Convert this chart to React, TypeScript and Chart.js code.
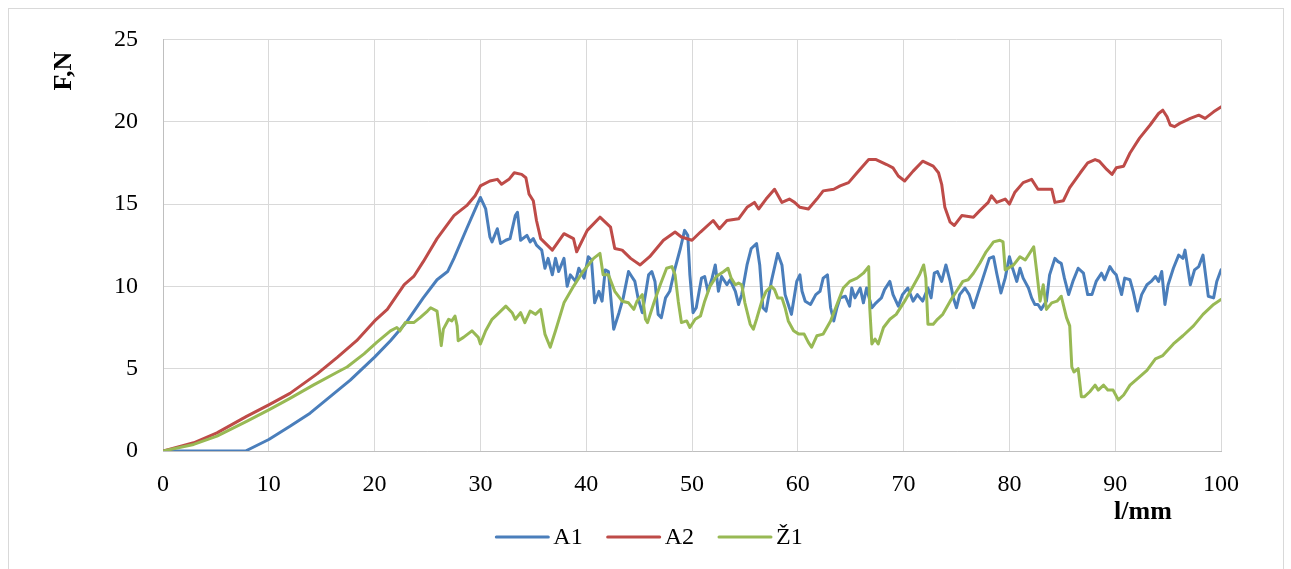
import React, { useEffect, useRef } from "react";
import { Chart, registerables } from "chart.js";

Chart.register(...registerables);

const xTicks = [0, 10, 20, 30, 40, 50, 60, 70, 80, 90, 100];
const yTicks = [0, 5, 10, 15, 20, 25];
const seriesNames = ["A1", "A2", "Ž1"];
const seriesColors = ["#4A7EBB", "#BE4B48", "#98B954"];

const a1X = [0, 7.8, 10, 12, 13.9, 15.8, 17.7, 20, 21.5, 23.1, 24.6, 25.9, 26.9, 27.5, 28.7, 30, 30.5, 30.9, 31.1, 31.6, 31.9, 32.4, 32.8, 33.3, 33.5, 33.8, 34.4, 34.7, 35, 35.3, 35.8, 36.1, 36.4, 36.8, 37.1, 37.4, 37.9, 38.2, 38.5, 39, 39.3, 39.8, 40.2, 40.5, 40.8, 41.2, 41.5, 41.8, 42.1, 42.6, 43.1, 43.5, 44, 44.3, 44.6, 44.9, 45.3, 45.6, 45.9, 46.2, 46.5, 46.8, 47.1, 47.5, 47.9, 48.4, 48.9, 49.3, 49.6, 49.8, 50.1, 50.4, 50.9, 51.2, 51.5, 51.9, 52.2, 52.5, 52.8, 53.3, 53.6, 54.1, 54.4, 54.7, 55.2, 55.6, 56.1, 56.4, 56.7, 57, 57.5, 58.1, 58.5, 58.8, 59.1, 59.4, 59.9, 60.2, 60.4, 60.7, 61.2, 61.7, 62.1, 62.4, 62.8, 63.1, 63.4, 63.7, 64, 64.5, 64.9, 65.1, 65.4, 65.9, 66.2, 66.5, 67, 67.4, 67.9, 68.2, 68.7, 69, 69.5, 69.9, 70.4, 70.9, 71.3, 71.8, 72.3, 72.6, 72.9, 73.2, 73.6, 74, 74.4, 74.7, 75, 75.3, 75.8, 76.2, 76.6, 77, 77.5, 78.1, 78.5, 78.8, 79.2, 79.6, 80, 80.3, 80.7, 81, 81.3, 81.8, 82.1, 82.4, 82.7, 83, 83.5, 83.8, 84.3, 84.6, 84.9, 85.2, 85.6, 86, 86.5, 87, 87.4, 87.8, 88.2, 88.7, 89, 89.5, 89.8, 90.1, 90.6, 90.9, 91.4, 91.7, 92.1, 92.5, 93, 93.4, 93.8, 94.1, 94.4, 94.7, 95, 95.5, 96, 96.4, 96.6, 97.1, 97.5, 97.9, 98.3, 98.8, 99.3, 99.6, 100];
const a1Y = [0, 0, 0.7, 1.5, 2.3, 3.3, 4.3, 5.7, 6.7, 7.9, 9.3, 10.4, 10.9, 11.7, 13.5, 15.4, 14.7, 13.0, 12.7, 13.5, 12.6, 12.8, 12.9, 14.3, 14.5, 12.8, 13.1, 12.7, 12.9, 12.5, 12.2, 11.1, 11.7, 10.7, 11.7, 10.9, 11.7, 10.0, 10.7, 10.3, 11.1, 10.5, 11.8, 11.6, 9.0, 9.7, 9.1, 11.0, 10.9, 7.4, 8.4, 9.3, 10.9, 10.6, 10.3, 9.3, 8.4, 9.5, 10.7, 10.9, 10.3, 8.3, 8.1, 9.3, 9.7, 11.1, 12.3, 13.4, 13.1, 10.7, 8.4, 8.7, 10.5, 10.6, 9.7, 10.5, 11.3, 9.7, 10.6, 10.1, 10.4, 9.7, 8.9, 9.5, 11.3, 12.3, 12.6, 11.3, 8.7, 8.5, 10.3, 12.0, 11.3, 9.5, 8.9, 8.3, 10.3, 10.7, 9.7, 9.1, 8.9, 9.5, 9.7, 10.5, 10.7, 8.7, 7.9, 8.7, 9.3, 9.4, 8.8, 9.9, 9.3, 9.9, 9.0, 9.9, 8.7, 9.0, 9.3, 9.8, 10.3, 9.5, 8.8, 9.5, 9.9, 9.1, 9.5, 9.1, 9.9, 9.3, 10.8, 10.9, 10.3, 11.3, 10.3, 9.3, 8.7, 9.5, 9.9, 9.5, 8.7, 9.5, 10.5, 11.7, 11.8, 10.8, 9.6, 10.5, 11.8, 11.1, 10.3, 11.1, 10.5, 9.9, 9.3, 8.9, 8.9, 8.6, 9.1, 10.7, 11.7, 11.5, 11.4, 10.5, 9.5, 10.3, 11.1, 10.8, 9.5, 9.5, 10.3, 10.8, 10.4, 11.2, 10.9, 10.7, 9.5, 10.5, 10.4, 9.7, 8.5, 9.5, 10.1, 10.3, 10.6, 10.3, 10.9, 8.9, 10.1, 11.1, 11.9, 11.7, 12.2, 10.1, 11.0, 11.2, 11.9, 9.4, 9.3, 10.3, 11.0];

const a2X = [0, 2.9, 5.1, 7.9, 10, 12, 14.6, 16.5, 18.3, 20, 21.2, 22.8, 23.7, 24.6, 25.9, 27.5, 28.7, 29.5, 30, 30.9, 31.6, 32, 32.7, 33.2, 33.9, 34.3, 34.6, 35, 35.3, 35.7, 36.8, 37.9, 38.8, 39.1, 40.1, 41.3, 42.3, 42.7, 43.4, 44.2, 45.1, 46, 47.3, 48.4, 49, 50, 50.8, 52, 52.6, 53.3, 54.4, 55.2, 55.9, 56.3, 57, 57.8, 58.5, 59.2, 59.7, 60.2, 61, 61.8, 62.4, 63.4, 64, 64.8, 65.6, 66.7, 67.4, 68.4, 69, 69.5, 70.1, 70.9, 71.8, 72.8, 73.3, 73.6, 73.9, 74.4, 74.8, 75.5, 76.6, 77.2, 78, 78.3, 78.8, 79.6, 80, 80.5, 81.3, 82.1, 82.7, 84, 84.3, 85.1, 85.7, 86.7, 87.4, 88.1, 88.5, 89.2, 89.7, 90.1, 90.8, 91.4, 92.3, 93.3, 94.1, 94.5, 94.9, 95.2, 95.6, 96.1, 97.1, 97.9, 98.5, 99.3, 100];
const a2Y = [0, 0.5, 1.1, 2.1, 2.8, 3.5, 4.7, 5.7, 6.7, 7.9, 8.6, 10.1, 10.6, 11.5, 12.9, 14.3, 14.9, 15.5, 16.1, 16.4, 16.5, 16.2, 16.5, 16.9, 16.8, 16.6, 15.6, 15.2, 14.0, 12.9, 12.2, 13.2, 12.9, 12.1, 13.4, 14.2, 13.6, 12.3, 12.2, 11.7, 11.3, 11.8, 12.8, 13.3, 13.0, 12.8, 13.3, 14.0, 13.5, 14.0, 14.1, 14.8, 15.1, 14.7, 15.3, 15.9, 15.1, 15.3, 15.1, 14.8, 14.7, 15.3, 15.8, 15.9, 16.1, 16.3, 16.9, 17.7, 17.7, 17.4, 17.2, 16.7, 16.4, 17.0, 17.6, 17.3, 16.9, 16.2, 14.8, 13.9, 13.7, 14.3, 14.2, 14.6, 15.1, 15.5, 15.1, 15.3, 15.0, 15.7, 16.3, 16.5, 15.9, 15.9, 15.1, 15.2, 16.0, 16.9, 17.5, 17.7, 17.6, 17.1, 16.8, 17.2, 17.3, 18.1, 19.0, 19.8, 20.5, 20.7, 20.3, 19.8, 19.7, 19.9, 20.2, 20.4, 20.2, 20.6, 20.9];

const z1X = [0, 2.9, 5.1, 7.9, 10, 12, 14.2, 16.5, 17.4, 19, 20.2, 21.5, 22.1, 22.4, 22.9, 23.7, 24.3, 25, 25.3, 25.9, 26.1, 26.3, 26.5, 27, 27.3, 27.6, 27.8, 27.9, 28.4, 29.2, 29.8, 30, 30.5, 31.1, 31.6, 32.4, 33, 33.3, 33.8, 34.2, 34.7, 35.2, 35.7, 36.1, 36.6, 37.1, 37.9, 38.8, 39.7, 40.7, 41.3, 41.6, 42.1, 42.7, 43.4, 44, 44.5, 44.8, 45.3, 45.6, 45.8, 46.4, 47, 47.6, 48.1, 48.4, 48.7, 49, 49.5, 49.8, 50.3, 50.8, 51.2, 51.7, 52.3, 53, 53.4, 53.7, 54.1, 54.4, 54.7, 55, 55.5, 55.8, 56.1, 56.6, 57, 57.5, 57.8, 58.1, 58.5, 58.8, 59.1, 59.6, 60.1, 60.6, 61, 61.3, 61.8, 62.4, 63.1, 63.7, 64.3, 64.9, 65.6, 66.2, 66.7, 66.8, 67, 67.3, 67.6, 68.1, 68.7, 69.3, 70.1, 70.9, 71.5, 71.9, 72.1, 72.3, 72.8, 73.2, 73.7, 74.4, 75, 75.6, 76.1, 76.6, 77.2, 77.8, 78.5, 79.1, 79.4, 79.6, 80.4, 81, 81.5, 82.3, 82.6, 82.9, 83.2, 83.5, 84, 84.5, 84.9, 85.4, 85.7, 85.9, 86.1, 86.5, 86.8, 87.1, 87.6, 88.1, 88.4, 88.9, 89.3, 89.8, 90.3, 90.8, 91.4, 92.3, 93, 93.8, 94.5, 95.5, 96.4, 97.4, 98.3, 99.3, 100];
const z1Y = [0, 0.4, 0.9, 1.8, 2.5, 3.2, 4.0, 4.8, 5.1, 5.9, 6.6, 7.3, 7.5, 7.3, 7.8, 7.8, 8.1, 8.5, 8.7, 8.5, 7.5, 6.4, 7.4, 8.0, 7.9, 8.2, 7.6, 6.7, 6.9, 7.3, 6.9, 6.5, 7.3, 8.0, 8.3, 8.8, 8.4, 8.0, 8.4, 7.8, 8.5, 8.3, 8.6, 7.1, 6.3, 7.3, 9.0, 10.0, 10.9, 11.7, 12.0, 10.7, 10.7, 9.7, 9.1, 9.0, 8.6, 9.1, 9.5, 8.0, 7.8, 9.0, 10.1, 11.1, 11.2, 10.7, 9.1, 7.8, 7.9, 7.5, 8.0, 8.2, 9.1, 10.0, 10.6, 10.9, 11.1, 10.5, 10.1, 10.2, 10.1, 9.0, 7.7, 7.4, 8.0, 9.1, 9.7, 10.0, 9.8, 9.3, 9.3, 8.7, 7.9, 7.3, 7.1, 7.1, 6.6, 6.3, 7.0, 7.1, 7.9, 8.9, 9.9, 10.3, 10.5, 10.8, 11.2, 8.7, 6.5, 6.8, 6.5, 7.5, 8.0, 8.3, 9.1, 10.0, 10.7, 11.3, 10.5, 7.7, 7.7, 8.0, 8.3, 9.1, 9.7, 10.3, 10.4, 10.8, 11.4, 12.1, 12.7, 12.8, 12.7, 11.0, 11.3, 11.8, 11.6, 12.4, 10.8, 9.1, 10.1, 8.6, 9.0, 9.1, 9.4, 8.1, 7.6, 5.1, 4.8, 5.0, 3.3, 3.3, 3.6, 4.0, 3.7, 4.0, 3.7, 3.7, 3.1, 3.4, 4.0, 4.5, 4.9, 5.6, 5.8, 6.5, 7.0, 7.6, 8.3, 8.9, 9.2];

const FONT = "'Liberation Serif', 'Times New Roman', serif";

function pts(xs: number[], ys: number[]) {
  return xs.map((x, i) => ({ x, y: ys[i] }));
}

const decorPlugin = {
  id: "decor",
  beforeDraw(chart: any) {
    const ctx = chart.ctx;
    ctx.save();
    ctx.fillStyle = "#ffffff";
    ctx.fillRect(0, 0, chart.width, chart.height);
    ctx.strokeStyle = "#d9d9d9";
    ctx.lineWidth = 1;
    ctx.strokeRect(8.5, 8.5, 1275, 620);
    ctx.restore();
  },
  afterDraw(chart: any) {
    const ctx = chart.ctx;
    ctx.save();
    ctx.fillStyle = "#000";
    ctx.font = `bold 26px ${FONT}`;
    ctx.textAlign = "center";
    ctx.textBaseline = "middle";
    ctx.save();
    ctx.translate(64, 71);
    ctx.rotate(-Math.PI / 2);
    ctx.fillText("F,N", 0, 0);
    ctx.restore();
    ctx.fillText("l/mm", 1143, 512);

    // legend
    ctx.font = `24px ${FONT}`;
    const lineW = 52;
    const gapText = 5;
    const gapItem = 25;
    const widths = seriesNames.map((n) => ctx.measureText(n).width);
    const total =
      widths.reduce((s, w) => s + lineW + gapText + w, 0) + gapItem * (seriesNames.length - 1);
    let x = 649.5 - total / 2;
    const y = 537;
    ctx.textAlign = "left";
    seriesNames.forEach((n, i) => {
      ctx.strokeStyle = seriesColors[i];
      ctx.lineWidth = 3;
      ctx.lineCap = "round";
      ctx.beginPath();
      ctx.moveTo(x, y);
      ctx.lineTo(x + lineW, y);
      ctx.stroke();
      ctx.fillStyle = "#000";
      ctx.fillText(n, x + lineW + gapText, y + 1);
      x += lineW + gapText + widths[i] + gapItem;
    });
    ctx.restore();
  },
};

export default function App() {
  const ref = useRef<HTMLCanvasElement | null>(null);
  useEffect(() => {
    if (!ref.current) return;
    const series = [pts(a1X, a1Y), pts(a2X, a2Y), pts(z1X, z1Y)];
    const chart = new Chart(ref.current, {
      type: "line",
      data: {
        datasets: series.map((d, i) => ({
          label: seriesNames[i],
          data: d,
          borderColor: seriesColors[i],
          backgroundColor: seriesColors[i],
          borderWidth: 3,
          borderJoinStyle: "round",
          borderCapStyle: "round",
          pointRadius: 0,
          tension: 0,
          fill: false,
          order: 3 - i,
        })),
      },
      options: {
        animation: false,
        responsive: false,
        layout: { padding: { left: 0, right: 70, top: 37, bottom: 0 } },
        plugins: { legend: { display: false }, tooltip: { enabled: false } },
        scales: {
          x: {
            type: "linear",
            min: 0,
            max: 100,
            afterBuildTicks: (s: any) => {
              s.ticks = xTicks.map((v) => ({ value: v }));
            },
            ticks: {
              font: { family: FONT, size: 24 },
              color: "#000",
              padding: 19,
              maxRotation: 0,
              autoSkip: false,
            },
            grid: { color: "#d9d9d9", lineWidth: 1, drawTicks: false },
            border: { color: "#bfbfbf", width: 1 },
            afterFit: (s: any) => {
              s.height = 118;
            },
          },
          y: {
            type: "linear",
            min: 0,
            max: 25,
            afterBuildTicks: (s: any) => {
              s.ticks = yTicks.map((v) => ({ value: v }));
            },
            ticks: {
              font: { family: FONT, size: 24 },
              color: "#000",
              padding: 25,
              autoSkip: false,
            },
            grid: { color: "#d9d9d9", lineWidth: 1, drawTicks: false },
            border: { color: "#bfbfbf", width: 1 },
            afterFit: (s: any) => {
              s.width = 163;
            },
          },
        },
      },
      plugins: [decorPlugin],
    } as any);
    return () => chart.destroy();
  }, []);
  return (
    <div style={{ position: "absolute", left: 0, top: 0, width: 1291, height: 569, overflow: "hidden" }}>
      <canvas ref={ref} width={1291} height={569} style={{ display: "block" }} />
    </div>
  );
}
